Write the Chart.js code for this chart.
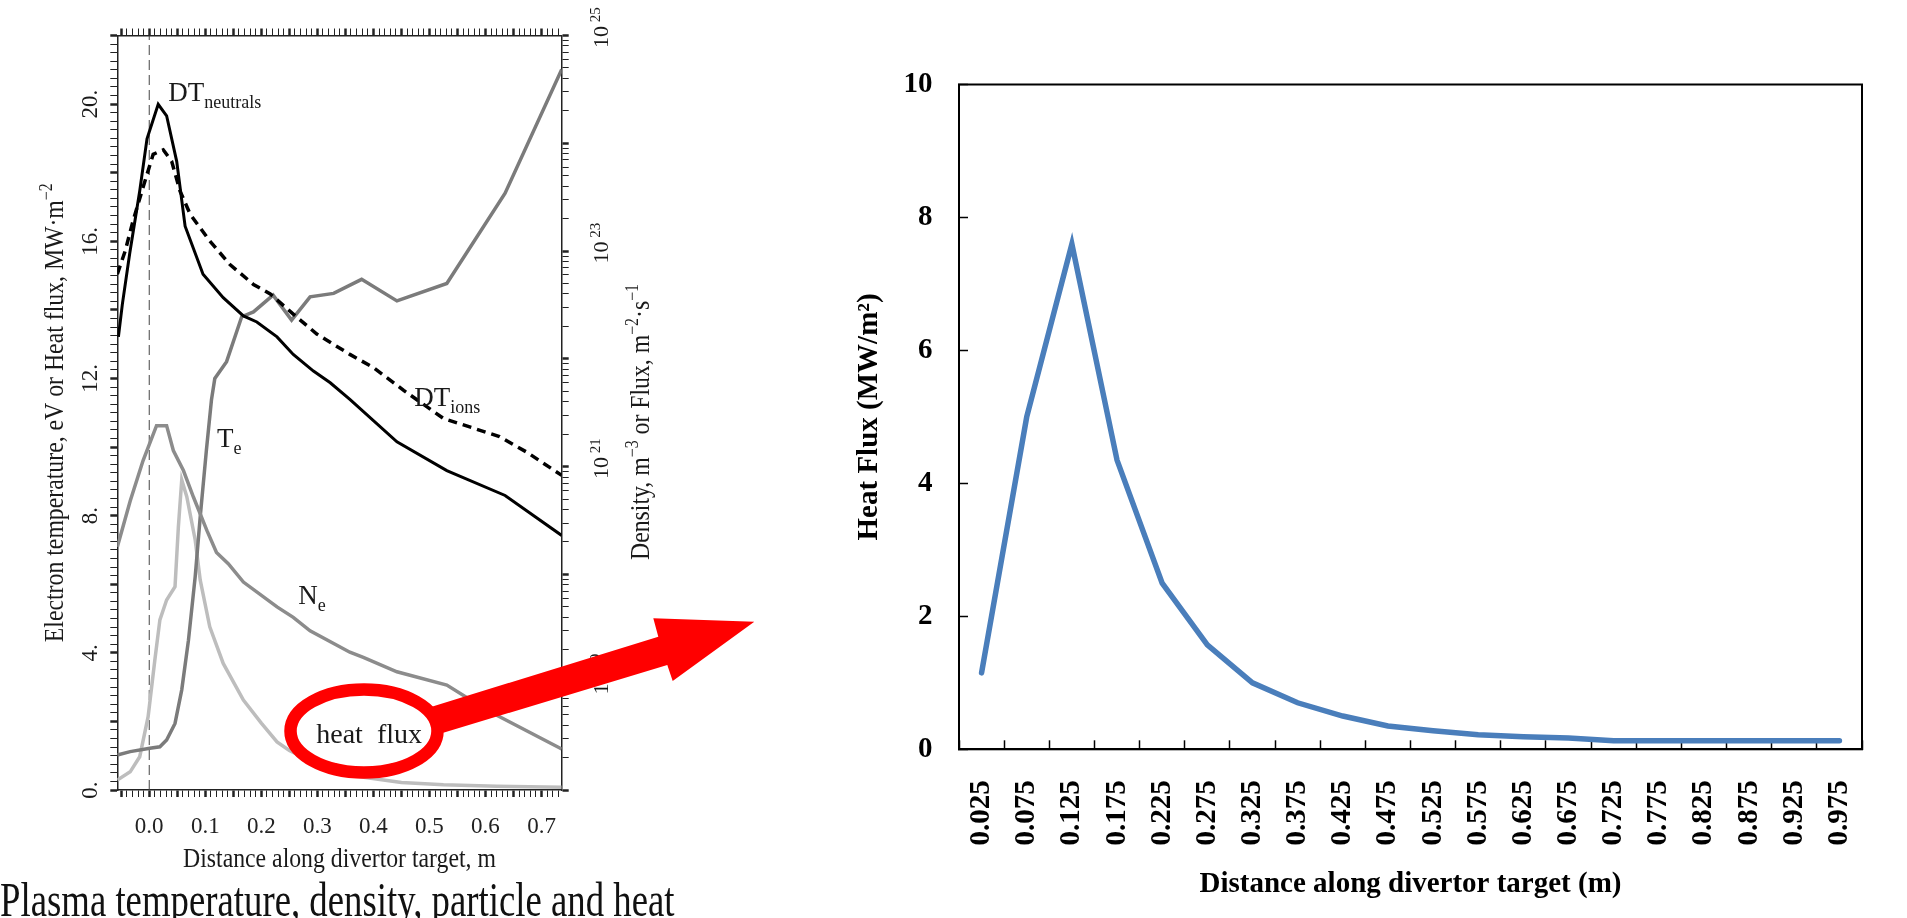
<!DOCTYPE html>
<html>
<head>
<meta charset="utf-8">
<title>Divertor heat flux</title>
<script src="https://cdn.jsdelivr.net/npm/chart.js@4.4.1/dist/chart.umd.min.js"></script>
<style>
  body { margin: 0; width: 1907px; height: 918px; overflow: hidden; background: #fff; position: relative; }
  #plasma { position: absolute; left: 0; top: 0; }
  #flux { position: absolute; left: 820px; top: 40px; }
  #caption { position: absolute; left: 0; top: 876px; font: 48px/48px "Liberation Serif", serif; color: #111;
             white-space: nowrap; transform: scaleX(0.766); transform-origin: 0 0; }
  #marks { position: absolute; left: 0; top: 0; }
</style>
</head>
<body>
<canvas id="plasma" width="700" height="880"></canvas>
<canvas id="flux" width="1087" height="878"></canvas>
<div id="caption">Plasma temperature, density, particle and heat</div>
<svg id="marks" width="1907" height="918">
  <polygon fill="#ff0000" points="431.7,706.7 658.3,636.7 653.3,618.3 754.3,621.7 672.7,681 667.3,665 443.3,732.7"/>
  <ellipse cx="364" cy="731" rx="73.5" ry="41.5" fill="none" stroke="#ff0000" stroke-width="12.5"/>
</svg>
<script>
// left figure: profiles along the divertor target
const dtnX = [-0.055, -0.048, -0.035, -0.017, -0.004, 0.016, 0.031, 0.049, 0.064, 0.096, 0.132, 0.168, 0.192, 0.228, 0.257, 0.293, 0.323, 0.358, 0.442, 0.531, 0.635, 0.736];
const dtnY = [1.6e22, 3.2e22, 9.4e22, 3.6e23, 1.1e24, 2.3e24, 1.8e24, 6.8e23, 1.7e23, 6.1e22, 3.7e22, 2.5e22, 2.2e22, 1.6e22, 1.1e22, 7.7e21, 6.0e21, 4.2e21, 1.7e21, 9.2e20, 5.4e20, 2.3e20];

const dtiX = [-0.057, -0.043, -0.029, -0.011, 0.007, 0.025, 0.040, 0.055, 0.073, 0.108, 0.144, 0.186, 0.216, 0.257, 0.299, 0.358, 0.400, 0.454, 0.525, 0.625, 0.674, 0.736];
const dtiY = [6.1e22, 1.0e23, 1.9e23, 3.9e23, 7.9e23, 8.7e23, 6.8e23, 3.6e23, 2.2e23, 1.24e23, 7.5e22, 4.9e22, 4.0e22, 2.6e22, 1.7e22, 1.1e22, 8.3e21, 5.1e21, 2.8e21, 1.9e21, 1.36e21, 8.3e20];

const neX = [-0.057, -0.034, -0.011, 0.013, 0.031, 0.043, 0.061, 0.079, 0.103, 0.120, 0.141, 0.168, 0.228, 0.257, 0.287, 0.358, 0.382, 0.442, 0.531, 0.603, 0.736];
const neY = [1.8e20, 4.8e20, 1.14e21, 2.4e21, 2.4e21, 1.41e21, 9.2e20, 5.2e20, 2.55e20, 1.6e20, 1.26e20, 8.5e19, 5.0e19, 4.0e19, 3.0e19, 1.9e19, 1.7e19, 1.25e19, 9.4e18, 5.5e18, 2.4e18];

const teX = [-0.057, -0.034, 0.001, 0.019, 0.031, 0.046, 0.058, 0.070, 0.082, 0.091, 0.102, 0.111, 0.117, 0.138, 0.165, 0.186, 0.221, 0.254, 0.287, 0.329, 0.379, 0.442, 0.531, 0.635, 0.736];
const teY = [1.02, 1.12, 1.22, 1.26, 1.46, 1.94, 2.92, 4.37, 6.22, 7.97, 9.91, 11.37, 12.0, 12.49, 13.8, 13.94, 14.43, 13.7, 14.38, 14.48, 14.89, 14.26, 14.77, 17.4, 21.01];

const hfX = [-0.057, -0.034, -0.017, -0.002, 0.010, 0.019, 0.031, 0.046, 0.052, 0.058, 0.067, 0.082, 0.091, 0.108, 0.132, 0.168, 0.200, 0.228, 0.250, 0.300, 0.370, 0.450, 0.525, 0.620, 0.736];
const hfY = [0.29, 0.53, 0.97, 2.14, 3.79, 4.96, 5.54, 5.93, 7.68, 9.04, 8.55, 7.29, 6.12, 4.76, 3.69, 2.62, 1.95, 1.4, 1.15, 0.75, 0.4, 0.22, 0.15, 0.11, 0.08];

const zeroX = [0, 0];
const zeroY = [0, 22];

// curve labels, placed in data units
const notes = [
  { parts: [['DT', 'n'], ['neutrals', 'sub']], x: 0.034, y: 20.1, size: 27 },
  { parts: [['DT', 'n'], ['ions', 'sub']], x: 0.473, y: 11.2, size: 27 },
  { parts: [['T', 'n'], ['e', 'sub']], x: 0.121, y: 10.0, size: 27 },
  { parts: [['N', 'n'], ['e', 'sub']], x: 0.266, y: 5.42, size: 27 },
  { parts: [['heat  flux', 'n']], x: 0.298, y: 1.38, size: 28 }
];

// right figure: heat flux per target bin
const hfDist = ['0.025', '0.075', '0.125', '0.175', '0.225', '0.275', '0.325', '0.375', '0.425', '0.475',
                '0.525', '0.575', '0.625', '0.675', '0.725', '0.775', '0.825', '0.875', '0.925', '0.975'];
const hfMW = [1.15, 5.0, 7.6, 4.35, 2.5, 1.57, 1.0, 0.7, 0.5, 0.35, 0.28, 0.22, 0.19, 0.17, 0.13, 0.13, 0.13, 0.13, 0.13, 0.13];

const serif = '"Liberation Serif", serif';
Chart.defaults.font.family = serif;

const pts = (xs, ys) => xs.map((x, i) => ({ x: x, y: ys[i] }));
const isMul = (v, step) => Math.abs(v / step - Math.round(v / step)) < 1e-6;
const isDecade = v => Math.abs(Math.log10(v) - Math.round(Math.log10(v))) < 1e-9;

// text with super/subscripts, optionally rotated and squeezed
function rich(ctx, parts, px, py, angle, size, sx, align) {
  const small = Math.round(size * 0.68);
  const fontOf = k => (k === 'n' ? size : small) + 'px ' + serif;
  let w = 0;
  parts.forEach(p => { ctx.font = fontOf(p[1]); w += ctx.measureText(p[0]).width; });
  ctx.save();
  ctx.translate(px, py);
  ctx.rotate(angle);
  ctx.scale(sx, 1);
  ctx.textAlign = 'left';
  ctx.textBaseline = 'alphabetic';
  let cx = align === 'center' ? -w / 2 : 0;
  const base = align === 'center' ? size * 0.34 : 0;
  parts.forEach(p => {
    ctx.font = fontOf(p[1]);
    const dy = p[1] === 'sup' ? -size * 0.4 : p[1] === 'sub' ? size * 0.27 : 0;
    ctx.fillText(p[0], cx, base + dy);
    cx += ctx.measureText(p[0]).width;
  });
  ctx.restore();
}

const plasmaText = {
  id: 'plasmaText',
  afterDraw(chart) {
    const { ctx } = chart;
    const { x, y, yR } = chart.scales;
    ctx.save();
    ctx.fillStyle = '#1a1a1a';
    y.ticks.forEach(t => {
      if (isMul(t.value, 4)) rich(ctx, [[t.value + '.', 'n']], 89, y.getPixelForValue(t.value), -Math.PI / 2, 23, 1, 'center');
    });
    yR.ticks.forEach(t => {
      const e = Math.round(Math.log10(t.value));
      if (isDecade(t.value) && e % 2 === 1) {
        rich(ctx, [['10', 'n'], [' ' + e, 'sup']], 601, yR.getPixelForValue(t.value) - 8, -Math.PI / 2, 22, 1, 'center');
      }
    });
    rich(ctx, [['Electron temperature, eV or Heat flux, MW\u00b7m', 'n'], ['\u22122', 'sup']],
         54, (y.top + y.bottom) / 2, -Math.PI / 2, 27, 0.88, 'center');
    rich(ctx, [['Density, m', 'n'], ['\u22123', 'sup'], [' or Flux, m', 'n'], ['\u22122', 'sup'], ['\u00b7s', 'n'], ['\u22121', 'sup']],
         640, 422, -Math.PI / 2, 27, 0.88, 'center');
    rich(ctx, [['Distance along divertor target, m', 'n']], (x.left + x.right) / 2, 858, 0, 27, 0.88, 'center');
    notes.forEach(n => rich(ctx, n.parts, x.getPixelForValue(n.x), y.getPixelForValue(n.y), 0, n.size, 1, 'left'));
    ctx.restore();
  }
};

const axisInk = '#222';
const xMin = -0.057, xMax = 0.736;

new Chart(document.getElementById('plasma'), {
  type: 'line',
  data: {
    datasets: [
      { label: 'DT neutrals', data: pts(dtnX, dtnY), yAxisID: 'yR', borderColor: '#000', borderWidth: 3 },
      { label: 'DT ions', data: pts(dtiX, dtiY), yAxisID: 'yR', borderColor: '#000', borderWidth: 3.5, borderDash: [9, 6] },
      { label: 'Ne', data: pts(neX, neY), yAxisID: 'yR', borderColor: '#8c8c8c', borderWidth: 3.5 },
      { label: 'Te', data: pts(teX, teY), yAxisID: 'y', borderColor: '#7b7b7b', borderWidth: 3.5 },
      { label: 'heat flux', data: pts(hfX, hfY), yAxisID: 'y', borderColor: '#bdbdbd', borderWidth: 3.5 },
      { label: 'x = 0', data: pts(zeroX, zeroY), yAxisID: 'y', borderColor: '#444', borderWidth: 1, borderDash: [10, 5] }
    ]
  },
  options: {
    responsive: false,
    animation: false,
    devicePixelRatio: 1,
    layout: { padding: 0 },
    elements: { point: { radius: 0 }, line: { tension: 0, fill: false } },
    plugins: { legend: { display: false }, tooltip: { enabled: false } },
    scales: {
      x: {
        type: 'linear', position: 'bottom', min: xMin, max: xMax,
        afterFit: s => { s.height = 90; },
        border: { color: axisInk, width: 1.5 },
        grid: { drawOnChartArea: false, tickLength: 7, tickColor: axisInk,
                tickWidth: c => (c.tick && isMul(c.tick.value, 0.05) ? 2.5 : 1) },
        ticks: { stepSize: 0.01, includeBounds: false, autoSkip: false, maxRotation: 0, padding: 16,
                 color: axisInk, font: { size: 23 },
                 callback: v => (isMul(v, 0.1) ? v.toFixed(1) : '') }
      },
      x2: {
        type: 'linear', position: 'top', min: xMin, max: xMax,
        afterFit: s => { s.height = 35.5; },
        border: { color: axisInk, width: 1.5 },
        grid: { drawOnChartArea: false, tickLength: 7, tickColor: axisInk,
                tickWidth: c => (c.tick && isMul(c.tick.value, 0.05) ? 2.5 : 1) },
        ticks: { stepSize: 0.01, includeBounds: false, autoSkip: false, display: false }
      },
      y: {
        type: 'linear', position: 'left', min: 0, max: 22,
        afterFit: s => { s.width = 117.3; },
        border: { color: axisInk, width: 1.5 },
        grid: { drawOnChartArea: false, tickLength: 7, tickColor: axisInk,
                tickWidth: c => (c.tick && isMul(c.tick.value, 2) ? 2.5 : 1) },
        ticks: { stepSize: 0.25, autoSkip: false, display: false }
      },
      yR: {
        type: 'logarithmic', position: 'right', min: 1e18, max: 1e25,
        afterFit: s => { s.width = 138.3; },
        afterBuildTicks: s => {
          const list = [];
          for (let e = 18; e < 25; e++) for (let m = 1; m < 10; m++) list.push({ value: m * Math.pow(10, e) });
          list.push({ value: 1e25 });
          s.ticks = list;
        },
        border: { color: axisInk, width: 1.5 },
        grid: { drawOnChartArea: false, tickLength: 7, tickColor: axisInk,
                tickWidth: c => (c.tick && isDecade(c.tick.value) ? 2.5 : 1) },
        ticks: { display: false }
      }
    }
  },
  plugins: [plasmaText]
});

const frame = {
  id: 'frame',
  afterDraw(chart) {
    const { ctx, chartArea: a } = chart;
    ctx.save();
    ctx.strokeStyle = '#000';
    ctx.lineWidth = 2;
    ctx.strokeRect(a.left, a.top, a.right - a.left, a.bottom - a.top);
    ctx.restore();
  }
};

const boldFont = { size: 29, weight: 'bold' };

new Chart(document.getElementById('flux'), {
  type: 'line',
  data: {
    labels: hfDist,
    datasets: [{
      label: 'Heat Flux', data: hfMW, borderColor: '#4a7ebb', borderWidth: 5.5,
      pointRadius: 0, tension: 0, borderCapStyle: 'round', borderJoinStyle: 'miter', fill: false
    }]
  },
  options: {
    responsive: false,
    animation: false,
    devicePixelRatio: 1,
    layout: { padding: { top: 44.5, right: 45, left: 0, bottom: 0 } },
    plugins: { legend: { display: false }, tooltip: { enabled: false } },
    scales: {
      x: {
        type: 'category', offset: true,
        afterFit: s => { s.height = 168.7; s.paddingLeft = 0; s.paddingRight = 0; },
        border: { color: '#000', width: 2 },
        grid: { offset: true, drawOnChartArea: false, tickLength: -9, tickColor: '#000', tickWidth: 1.5 },
        ticks: { autoSkip: false, minRotation: 90, maxRotation: 90, padding: 40, color: '#000', font: boldFont },
        title: { display: true, text: 'Distance along divertor target (m)', color: '#000', font: boldFont,
                 padding: { top: 0, bottom: 15.6 } }
      },
      y: {
        min: 0, max: 10,
        afterFit: s => { s.width = 139; s.paddingTop = 0; s.paddingBottom = 0; },
        border: { color: '#000', width: 2 },
        grid: { drawOnChartArea: false, tickLength: -9, tickColor: '#000', tickWidth: 1.5 },
        ticks: { stepSize: 2, padding: 35.5, color: '#000', font: boldFont },
        title: { display: true, text: 'Heat Flux (MW/m\u00b2)', color: '#000', font: boldFont,
                 padding: { top: 32.6, bottom: 0 } }
      }
    }
  },
  plugins: [frame]
});
</script>
</body>
</html>
